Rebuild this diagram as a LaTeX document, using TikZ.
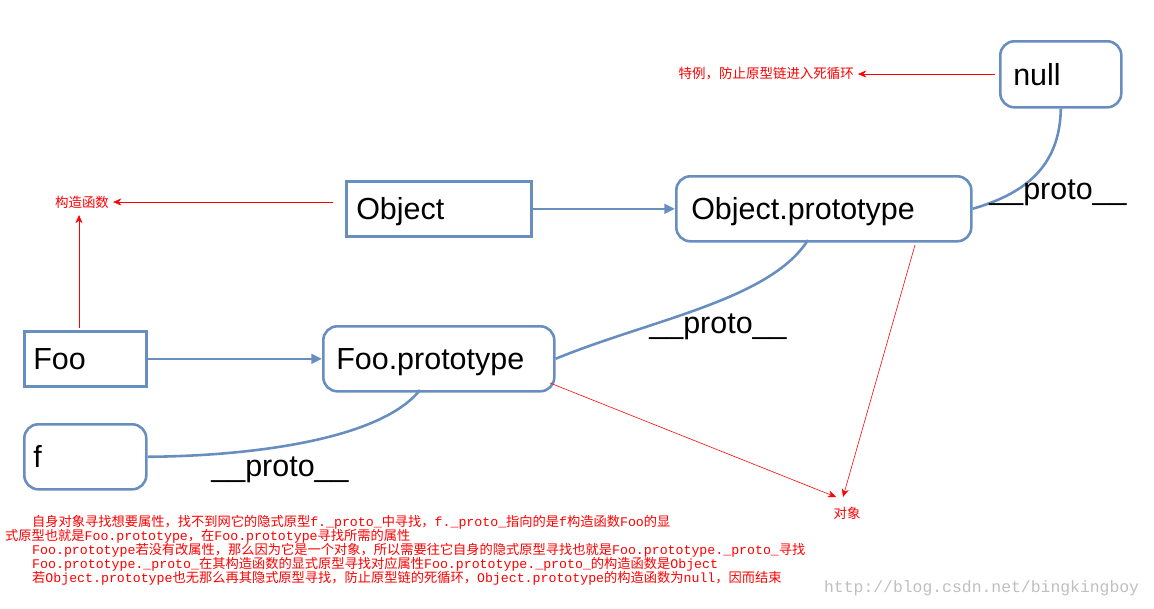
\documentclass[tikz,border=0pt]{standalone}
\usepackage{fontspec}
\setmainfont{Liberation Sans}
\newfontfamily\cjk{Noto Sans CJK SC}
\newfontfamily\monof{Liberation Mono}
\usetikzlibrary{arrows.meta}
\definecolor{bl}{RGB}{104,142,192}
\begin{document}
\begin{tikzpicture}[x=0.03cm,y=-0.03cm,
  box/.style={draw=bl,line width=2.2pt,fill=white,font=\fontsize{26}{28}\selectfont,anchor=north west,inner sep=0pt,text depth=0pt,align=left},
  rbox/.style={box,rounded corners=12pt},
  conn/.style={bl,line width=2.2pt},
  rarr/.style={red,-{Stealth[length=7pt,width=6pt]},line width=0.5pt},
  lab/.style={red,font=\cjk\fontsize{11.5}{13}\selectfont},
  plab/.style={font=\fontsize{26}{28}\selectfont}]
\useasboundingbox (0,0) rectangle (1154,608);
\node[rbox,minimum width=121*0.03cm,minimum height=66*0.03cm,text width=95*0.03cm] (null) at (999,40) {null};
\node[box,minimum width=185*0.03cm,minimum height=55*0.03cm,text width=165*0.03cm] (obj) at (345,180) {Object};
\node[rbox,minimum width=295*0.03cm,minimum height=65*0.03cm,text width=265*0.03cm] (objp) at (675,175) {Object.prototype};
\node[box,minimum width=122*0.03cm,minimum height=55*0.03cm,text width=104*0.03cm] (foo) at (23,330) {Foo};
\node[rbox,minimum width=231*0.03cm,minimum height=65*0.03cm,text width=205*0.03cm] (foop) at (322,325) {Foo.prototype};
\node[rbox,minimum width=122*0.03cm,minimum height=65*0.03cm,text width=104*0.03cm] (f) at (23,423) {f};
\draw[conn,-{Triangle[length=9pt,width=8pt]}] (obj.east) -- (objp.west);
\draw[conn,-{Triangle[length=9pt,width=8pt]}] (foo.east) -- (foop.west);
\draw[conn] (null.south) .. controls (1060,170) and (1020,195) .. (objp.east);
\draw[conn] (808,240) .. controls (770,300) and (650,320) .. (foop.east);
\draw[conn] (420,390) .. controls (380,440) and (250,456) .. (f.east);
\node[plab] (p1) at (1058,193) {\_\_proto\_\_};
\node[plab] (p2) at (718,327) {\_\_proto\_\_};
\node[plab] (p3) at (280,470) {\_\_proto\_\_};
\node[lab,anchor=east] (l1) at (858,74) {特例，防止原型链进入死循环};
\coordinate (n1) at (995,74);
\draw[rarr] (n1) -- (l1.east);
\node[lab] (l2) at (82,202) {构造函数};
\coordinate (o1) at (333,202);
\draw[rarr] (o1) -- (l2.east);
\coordinate (fo) at (79,328);
\draw[rarr] (fo) -- (79,215);
\node[lab] (l3) at (847,513) {对象};
\coordinate (a1) at (550,383);
\coordinate (a2) at (915,245);
\draw[rarr] (a1) -- (836,497);
\draw[rarr] (a2) -- (843,497);
\begin{scope}[every node/.style={red,anchor=west,inner sep=0pt,font=\cjk\fontsize{11.3}{13}\selectfont}]
\node (t1) at (32,522) {自身对象寻找想要属性，找不到网它的隐式原型{\monof f.\_proto\_}中寻找，{\monof f.\_proto\_}指向的是{\monof f}构造函数{\monof Foo}的显};
\node (t2) at (5,536) {式原型也就是{\monof Foo.prototype}，在{\monof Foo.prototype}寻找所需的属性};
\node (t3) at (32,550) {{\monof Foo.prototype}若没有改属性，那么因为它是一个对象，所以需要往它自身的隐式原型寻找也就是{\monof Foo.prototype.\_proto\_}寻找};
\node (t4) at (32,564) {{\monof Foo.prototype.\_proto\_}在其构造函数的显式原型寻找对应属性{\monof Foo.prototype.\_proto\_}的构造函数是{\monof Object}};
\node (t5) at (32,578) {若{\monof Object.prototype}也无那么再其隐式原型寻找，防止原型链的死循环，{\monof Object.prototype}的构造函数为{\monof null}，因而结束};
\end{scope}
\node[gray!50,anchor=west,font=\monof\fontsize{14}{16}\selectfont] (wm) at (820,588) {http://blog.csdn.net/bingkingboy};
\end{tikzpicture}
\end{document}
